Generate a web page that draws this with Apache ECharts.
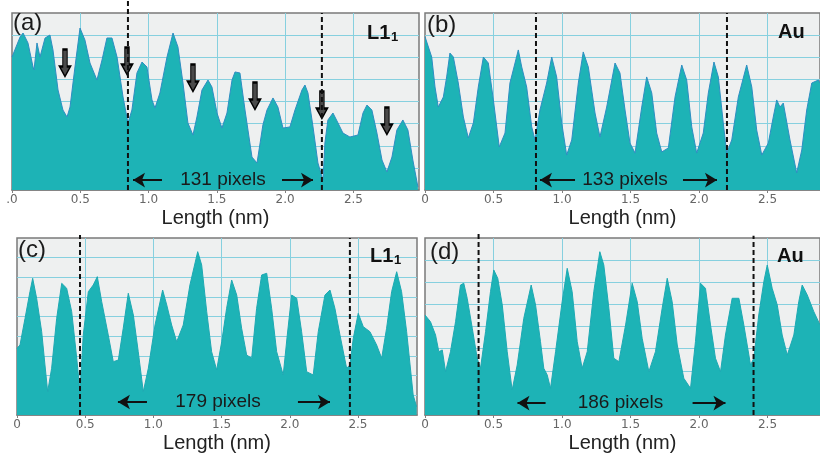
<!DOCTYPE html>
<html>
<head>
<meta charset="utf-8">
<script src="https://cdn.jsdelivr.net/npm/echarts@6/dist/echarts.min.js"></script>
<style>
  html, body {margin: 0; padding: 0; background: #fff;}
  #chart {width: 820px; height: 453px;}
</style>
</head>
<body>
<div id="chart"></div>
<script>
  // (a) L1_1 line profile, x in nm, intensity in a.u.
  const aX = [0, 0.059, 0.081, 0.117, 0.154, 0.161, 0.183, 0.205, 0.242, 0.278, 0.300, 0.337, 0.373, 0.403, 0.425, 0.461,
    0.498, 0.534, 0.571, 0.622, 0.659, 0.695, 0.732, 0.769, 0.813, 0.849, 0.878, 0.915, 0.952, 0.988, 1.025, 1.047,
    1.083, 1.135, 1.179, 1.215, 1.252, 1.288, 1.325, 1.354, 1.391, 1.435, 1.464, 1.501, 1.537, 1.574, 1.611, 1.633,
    1.669, 1.706, 1.757, 1.794, 1.837, 1.867, 1.911, 1.947, 1.984, 2.035, 2.072, 2.123, 2.145, 2.167, 2.204, 2.240,
    2.277, 2.291, 2.313, 2.350, 2.387, 2.423, 2.474, 2.533, 2.570, 2.599, 2.635, 2.672, 2.709, 2.745, 2.782, 2.818,
    2.862, 2.899, 2.935, 2.972];
  const aY = [120.2, 138.3, 141.9, 132.9, 111.2, 108.5, 132.9, 120.2, 137.4, 140.1, 126.6, 90.4, 72.3, 66.0, 75.0, 111.2,
    146.4, 135.6, 114.8, 99.4, 117.5, 137.4, 137.4, 120.2, 84.1, 60.6, 72.3, 105.8, 115.7, 111.2, 81.4, 74.1,
    87.7, 120.2, 141.9, 129.3, 96.7, 60.6, 49.7, 66.0, 90.4, 99.4, 93.1, 69.6, 56.0, 69.6, 99.4, 106.7,
    105.8, 72.3, 29.8, 24.4, 58.8, 72.3, 83.2, 75.0, 56.0, 57.0, 72.3, 90.4, 94.9, 87.7, 57.0, 24.4,
    9.0, 42.5, 63.3, 69.6, 60.6, 51.5, 47.9, 49.7, 69.6, 76.8, 72.3, 51.5, 27.1, 16.3, 29.8, 54.2,
    63.3, 54.2, 27.1, 2.7];

  // (b) Au
  const bX = [0, 0.049, 0.073, 0.097, 0.134, 0.158, 0.182, 0.207, 0.243, 0.280, 0.316, 0.353, 0.389, 0.426, 0.462, 0.499,
    0.542, 0.584, 0.620, 0.657, 0.681, 0.706, 0.742, 0.779, 0.803, 0.839, 0.888, 0.925, 0.961, 0.998, 1.034, 1.071,
    1.119, 1.155, 1.192, 1.241, 1.277, 1.326, 1.387, 1.423, 1.460, 1.496, 1.533, 1.582, 1.618, 1.655, 1.691, 1.728,
    1.776, 1.825, 1.874, 1.910, 1.947, 1.983, 2.031, 2.068, 2.109, 2.141, 2.177, 2.202, 2.239, 2.287, 2.348, 2.385,
    2.421, 2.458, 2.506, 2.542, 2.567, 2.591, 2.615, 2.664, 2.713, 2.750, 2.786, 2.823, 2.871, 2.883];
  const bY = [138.6, 120.2, 93.1, 75.0, 84.1, 102.2, 123.8, 120.2, 96.7, 66.0, 47.0, 60.6, 93.1, 120.2, 114.8, 81.4,
    38.9, 51.5, 96.7, 114.8, 126.6, 111.2, 93.1, 57.0, 45.2, 72.3, 96.7, 120.2, 102.2, 60.6, 31.6, 45.2,
    96.7, 124.8, 111.2, 69.6, 47.9, 75.0, 114.8, 105.8, 72.3, 42.5, 33.4, 75.0, 102.2, 87.7, 51.5, 34.4,
    38.0, 84.1, 113.0, 99.4, 57.0, 33.4, 51.5, 87.7, 115.7, 102.2, 60.6, 33.4, 45.2, 84.1, 113.0, 93.1,
    54.2, 31.6, 42.5, 66.0, 81.4, 75.0, 78.6, 45.2, 15.4, 36.2, 72.3, 96.7, 99.4, 96.7];

  // (c) L1_1
  const cX = [0, 0.022, 0.059, 0.095, 0.115, 0.144, 0.181, 0.205, 0.225, 0.254, 0.291, 0.328, 0.364, 0.401, 0.438, 0.462,
    0.486, 0.523, 0.559, 0.589, 0.621, 0.669, 0.706, 0.743, 0.779, 0.816, 0.853, 0.889, 0.926, 0.963, 1.012, 1.068,
    1.098, 1.134, 1.171, 1.219, 1.268, 1.325, 1.354, 1.391, 1.427, 1.464, 1.501, 1.537, 1.574, 1.611, 1.647, 1.684,
    1.721, 1.757, 1.794, 1.831, 1.867, 1.904, 1.952, 1.982, 2.014, 2.051, 2.087, 2.124, 2.172, 2.209, 2.258, 2.295,
    2.331, 2.368, 2.417, 2.441, 2.466, 2.502, 2.539, 2.588, 2.637, 2.674, 2.710, 2.747, 2.784, 2.820, 2.857, 2.905,
    2.930];
  const cY = [67.8, 71.2, 98.3, 125.4, 139.0, 118.7, 84.7, 50.9, 23.7, 47.5, 98.3, 133.9, 128.9, 105.1, 57.7, 23.7,
    81.4, 125.4, 132.2, 140.7, 115.2, 81.4, 54.2, 55.9, 88.2, 123.8, 101.7, 64.4, 23.7, 47.5, 91.5, 127.1,
    111.9, 91.5, 74.5, 91.5, 132.2, 166.1, 152.6, 105.1, 64.4, 45.8, 74.5, 108.5, 137.3, 122.0, 88.2, 61.0,
    57.7, 108.5, 142.4, 144.1, 108.5, 64.4, 40.7, 81.4, 122.0, 118.7, 84.7, 44.0, 40.7, 84.7, 122.0, 127.1,
    108.5, 81.4, 47.5, 50.9, 78.0, 103.4, 89.8, 84.7, 71.2, 57.7, 88.2, 125.4, 145.7, 125.4, 84.7, 20.3,
    8.4];

  // (d) Au
  const dX = [0, 0.040, 0.077, 0.101, 0.126, 0.150, 0.186, 0.223, 0.259, 0.283, 0.308, 0.345, 0.381, 0.405, 0.442, 0.478,
    0.502, 0.531, 0.564, 0.600, 0.636, 0.673, 0.721, 0.775, 0.807, 0.843, 0.867, 0.892, 0.916, 0.953, 1.001, 1.038,
    1.074, 1.111, 1.147, 1.184, 1.232, 1.276, 1.305, 1.342, 1.378, 1.415, 1.464, 1.512, 1.549, 1.585, 1.634, 1.682,
    1.731, 1.768, 1.804, 1.841, 1.889, 1.938, 1.974, 2.011, 2.047, 2.084, 2.120, 2.157, 2.193, 2.242, 2.291, 2.327,
    2.376, 2.400, 2.436, 2.473, 2.498, 2.534, 2.571, 2.607, 2.644, 2.692, 2.728, 2.753, 2.790, 2.838, 2.883];
  const dY = [90.4, 84.3, 72.3, 57.2, 58.8, 39.1, 57.2, 84.3, 117.5, 119.1, 105.5, 78.4, 51.3, 42.2, 75.3, 111.5,
    131.1, 123.6, 99.4, 57.2, 22.6, 45.2, 87.4, 117.5, 99.4, 66.3, 42.2, 36.2, 24.1, 57.2, 102.4, 132.6,
    111.5, 66.3, 42.2, 57.2, 111.5, 147.6, 135.6, 96.5, 51.3, 48.2, 81.4, 119.1, 102.4, 69.3, 39.1, 57.2,
    96.5, 123.6, 102.4, 63.3, 33.2, 24.1, 66.3, 119.1, 114.5, 81.4, 51.3, 39.1, 72.3, 105.5, 105.5, 81.4,
    45.2, 51.3, 90.4, 120.5, 135.6, 114.5, 99.4, 72.3, 54.2, 72.3, 102.4, 117.5, 108.5, 93.4, 81.4];

  // dashed markers (nm) and how far up they reach
  const aDash = [0.849, 2.269], aDashTop = [171.8, 160];
  const bDash = [0.810, 2.204], bDashTop = [160, 160];
  const cDash = [0.462, 2.441], cDashTop = [183, 180];
  const dDash = [0.391, 2.398], dDashTop = [165, 162];

  // "xxx pixels" label: text, centre x, y, left arrow, right arrow
  const aPix = ['131 pixels', 1.545, 9.0, [0.886, 1.098], [1.977, 2.204]];
  const bPix = ['133 pixels', 1.460, 9.0, [0.839, 1.095], [1.883, 2.131]];
  const cPix = ['179 pixels', 1.474, 13.2, [0.740, 0.953], [2.060, 2.295]];
  const dPix = ['186 pixels', 1.427, 10.8, [0.675, 0.880], [1.953, 2.193]];

  // hollow down arrows in (a)
  const arrowX = [0.388, 0.842, 1.325, 1.779, 2.269, 2.745];
  const arrowY = [114.8, 116.6, 101.2, 85.0, 76.8, 62.4];

  const tickLabels = ['0', '0.5', '1.0', '1.5', '2.0', '2.5'];

  const font = 'Liberation Sans, Arial, sans-serif';
  const panels = [
    {x: aX, y: aY, dash: aDash, top: aDashTop, pix: aPix, zero: '.0', xMax: 2.98, yMax: 160, line: '#2e8ec2',
      grid: {left: 12, right: 401, top: 13, height: 177}},
    {x: bX, y: bY, dash: bDash, top: bDashTop, pix: bPix, zero: '0', xMax: 2.883, yMax: 160, line: '#2e8ec2',
      grid: {left: 425, right: 0, top: 13, height: 177}},
    {x: cX, y: cY, dash: cDash, top: cDashTop, pix: cPix, zero: '0', xMax: 2.933, yMax: 180, line: '#1ea9b3',
      grid: {left: 17, right: 403, top: 238, height: 177}},
    {x: dX, y: dY, dash: dDash, top: dDashTop, pix: dPix, zero: '0', xMax: 2.883, yMax: 160, line: '#1ea9b3',
      grid: {left: 425, right: 0, top: 238, height: 177}}
  ];

  const gridLine = {show: true, showMinLine: false, showMaxLine: false, lineStyle: {color: '#86d0df', width: 1}};

  const option = {
    animation: false,
    title: [],
    grid: [],
    xAxis: [],
    yAxis: [],
    series: []
  };

  panels.forEach((p, i) => {
    option.grid.push(Object.assign({
      show: true,
      backgroundColor: '#eef0f0',
      borderColor: '#7a7a7a',
      borderWidth: 1.5,
      outerBoundsMode: 'none',
      containLabel: false
    }, p.grid));
    option.xAxis.push({
      type: 'value',
      gridIndex: i,
      min: 0,
      max: p.xMax,
      interval: 0.5,
      name: 'Length (nm)',
      nameLocation: 'middle',
      nameGap: 18,
      nameTextStyle: {fontSize: 20, color: '#222', fontFamily: font},
      axisLine: {lineStyle: {color: '#808080', width: 1.5}},
      axisTick: {length: 3, lineStyle: {color: '#808080'}},
      axisLabel: {
        margin: 4,
        fontSize: 12,
        color: '#666',
        fontFamily: 'DejaVu Sans',
        showMaxLabel: false,
        formatter: v => {
          const k = Math.round(v / 0.5);
          if (Math.abs(v - k * 0.5) > 1e-6 || k >= tickLabels.length) return '';
          return k === 0 ? p.zero : tickLabels[k];
        }
      },
      splitLine: gridLine
    });
    option.yAxis.push({
      type: 'value',
      gridIndex: i,
      min: 0,
      max: p.yMax,
      interval: 20,
      axisLine: {show: false},
      axisTick: {show: false},
      axisLabel: {show: false},
      splitLine: gridLine
    });

    const markPoints = [{
      coord: [p.pix[1], p.pix[2]],
      symbol: 'rect',
      symbolSize: 0,
      label: {show: true, formatter: p.pix[0], fontSize: 19, color: '#1a1a1a', fontFamily: font}
    }];
    if (i === 0) {
      arrowX.forEach((ax, k) => {
        markPoints.push({
          coord: [ax, arrowY[k]],
          symbol: 'path://M3,0 L7,0 L7,17 L10,17 L5,27 L0,17 L3,17 Z',
          symbolSize: [11, 27],
          itemStyle: {color: '#4a4a4a', borderColor: '#000', borderWidth: 1.5},
          label: {show: false}
        });
      });
    }

    option.series.push({
      type: 'line',
      xAxisIndex: i,
      yAxisIndex: i,
      data: p.x.map((v, k) => [v, p.y[k]]),
      symbol: 'none',
      lineStyle: {color: p.line, width: 1},
      areaStyle: {color: '#1db3b6', opacity: 1},
      silent: true,
      markPoint: {silent: true, data: markPoints},
      markLine: {
        silent: true,
        symbolSize: [11, 12],
        label: {show: false},
        lineStyle: {color: '#111', width: 2, type: 'solid'},
        data: [
          [{coord: [p.pix[3][0], p.pix[2]], symbol: 'arrow'}, {coord: [p.pix[3][1], p.pix[2]], symbol: 'none'}],
          [{coord: [p.pix[4][0], p.pix[2]], symbol: 'none'}, {coord: [p.pix[4][1], p.pix[2]], symbol: 'arrow'}]
        ]
      }
    });

    p.dash.forEach((d, k) => {
      option.series.push({
        type: 'line',
        xAxisIndex: i,
        yAxisIndex: i,
        clip: false,
        silent: true,
        symbol: 'none',
        z: 5,
        data: [[d, 0], [d, p.top[k]]],
        lineStyle: {color: '#111', width: 2, type: [5, 3]}
      });
    });
  });

  // panel letters and material tags
  const letter = (t, left, top) => ({text: t, left: left, top: top, padding: 0,
    textStyle: {fontSize: 24, fontWeight: 'normal', color: '#1a1a1a', fontFamily: font}});
  const tag = (t, left, top, size) => ({text: t, left: left, top: top, padding: 0,
    textStyle: {fontSize: size, fontWeight: 'bold', color: '#111', fontFamily: font}});
  option.title.push(
    letter('(a)', 13, 11), letter('(b)', 427, 13), letter('(c)', 18, 238), letter('(d)', 430, 240),
    tag('L1', 367, 23, 20), tag('1', 391, 31, 13),
    tag('Au', 778, 22, 20),
    tag('L1', 370, 246, 20), tag('1', 394, 254, 13),
    tag('Au', 777, 246, 20)
  );

  echarts.init(document.getElementById('chart')).setOption(option);
</script>
</body>
</html>
